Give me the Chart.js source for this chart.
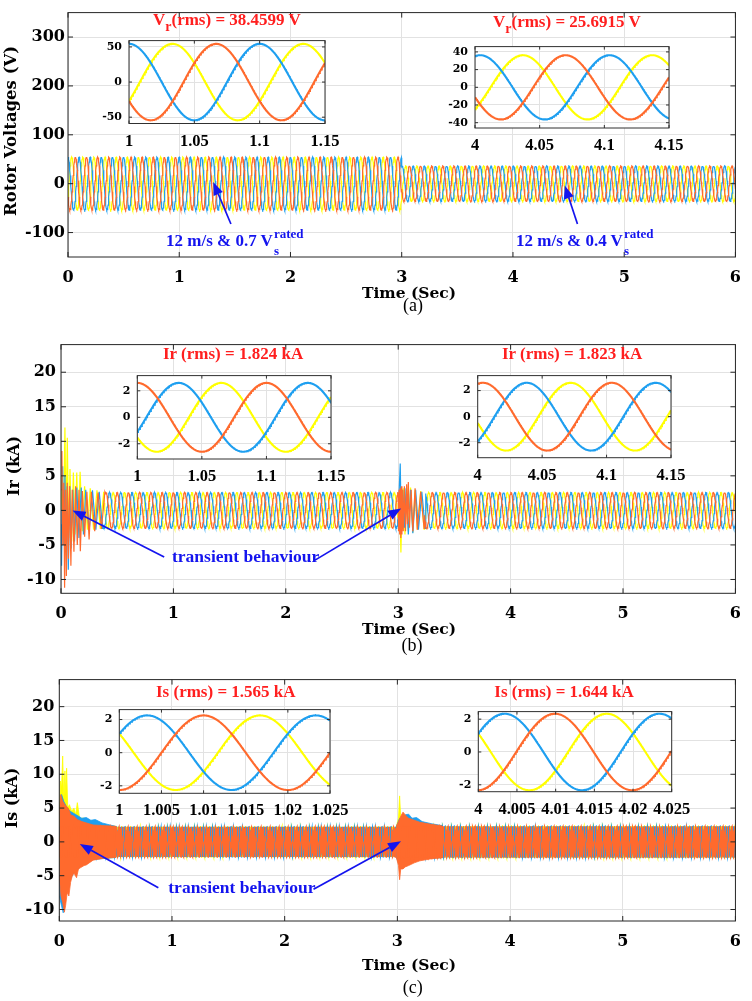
<!DOCTYPE html>
<html><head><meta charset="utf-8">
<script src="https://cdn.jsdelivr.net/npm/chart.js@4.4.0/dist/chart.umd.min.js"></script>
<style>
html,body{margin:0;padding:0;background:#fff}
body{position:relative;width:752px;height:1001px;overflow:hidden}
.cw{position:absolute}
.t{position:absolute;white-space:nowrap;line-height:1}
</style></head><body>
<script>
// ================= DATA =================
const timeTicks = [0, 1, 2, 3, 4, 5, 6];
const vrTicks = [-100, 0, 100, 200, 300];
const currentTicks = [-10, -5, 0, 5, 10, 15, 20];
const switchTime = 3; // s, operating point change

// (a) rotor voltages: peak amplitude before/after 3 s, frequency, time of a peak per phase
const vrFreq = 10;
const vrPeakAmp = [54.4, 36.3];
const vrPeakYellow = [1.0333, 4.037];
const vrPeakBlue = [1.0, 4.004];
const vrPeakOrange = [1.0667, 4.070];
const vrInset1X = [1, 1.05, 1.1, 1.15];
const vrInset1Y = [-50, 0, 50];
const vrInset2X = [4, 4.05, 4.1, 4.15];
const vrInset2Y = [-40, -20, 0, 20, 40];

// (b) rotor currents (kA)
const irFreq = 10;
const irPeakAmp = [2.6, 2.6];
const irPeakOrange = [1.0, 4.004];
const irPeakBlue = [1.032, 4.038];
const irPeakYellow = [1.065, 4.072];
const irInset1X = [1, 1.05, 1.1, 1.15];
const irInset2X = [4, 4.05, 4.1, 4.15];
const irInsetY = [-2, 0, 2];
// transient samples [t, kA]
const irYellowStart = [[0,0],[0.01,5],[0.02,-4],[0.035,12],[0.045,-3],[0.056,10.5],[0.068,-4],[0.08,6],[0.095,-4.5],[0.11,5.5],[0.125,-3.5],[0.14,5.5],[0.155,-3],[0.17,5.6],[0.19,-3],[0.21,3.5],[0.235,-2.8],[0.26,3.2],[0.29,-2.8],[0.32,2.9],[0.35,-2.7],[0.38,2.7]];
const irBlueStart = [[0,-2],[0.005,-8],[0.015,6.4],[0.025,-5],[0.035,5],[0.045,-6],[0.055,3.5],[0.065,-8.6],[0.078,3.5],[0.09,-5.5],[0.105,3],[0.12,-4.5],[0.14,3.3],[0.16,-4],[0.18,3.3],[0.2,-3.5],[0.22,3],[0.25,-3],[0.28,2.9],[0.31,-2.8],[0.34,2.7],[0.37,-2.6]];
const irOrangeStart = [[0,3],[0.008,8.6],[0.016,-5],[0.025,4],[0.032,-11.2],[0.04,3],[0.048,-9.5],[0.056,4],[0.066,-7],[0.076,3.5],[0.088,-8],[0.1,3],[0.115,-6],[0.13,3.5],[0.145,-5],[0.16,3],[0.172,-5.9],[0.19,2.8],[0.21,-3.8],[0.23,2.7],[0.25,-4.2],[0.27,2.7],[0.3,-3],[0.33,2.6],[0.36,-2.7],[0.39,2.6]];
const irYellowSwitch = [[3.005,-2],[3.012,1.5],[3.024,-6.1],[3.035,1],[3.045,3.2],[3.06,-3.5],[3.075,3.5],[3.09,-3],[3.11,3.3],[3.13,-3.2],[3.15,3],[3.17,-2.8],[3.2,2.8],[3.23,-2.7]];
const irBlueSwitch = [[3.005,1],[3.018,6.8],[3.026,-1.5],[3.04,3],[3.055,-2.5],[3.07,3.2],[3.09,-3.5],[3.11,3],[3.13,-3.3],[3.155,3],[3.18,-2.8],[3.21,2.7],[3.24,-2.6]];
const irOrangeSwitch = [[3.003,-3],[3.008,3],[3.013,-3.5],[3.018,3.2],[3.023,-4],[3.028,3.5],[3.033,-3.5],[3.038,3],[3.045,-3],[3.055,3.5],[3.065,-3],[3.075,3.8],[3.082,-2],[3.09,4.1],[3.1,-2.5],[3.115,3],[3.13,-3],[3.15,3.2],[3.17,-2.8],[3.2,2.7],[3.23,-2.6]];

// (c) stator currents (kA)
const isFreq = 50;
const isPeakAmp = [2.25, 2.33];
const isPeakBlue = [1.0033, 4.0034];
const isPeakOrange = [1.0100, 4.0099];
const isPeakYellow = [1.0167, 4.0166];
const isInset1X = [1, 1.005, 1.01, 1.015, 1.02, 1.025];
const isInset2X = [4, 4.005, 4.01, 4.015, 4.02, 4.025];
const isInsetY = [-2, 0, 2];
// transient envelopes [t, kA] (upper / lower edges of each phase's band)
const isYellowUp0 = [[0,3],[0.01,9],[0.02,8],[0.03,12.7],[0.04,6],[0.05,10.5],[0.058,7],[0.065,10.9],[0.075,5],[0.09,5.5],[0.11,4.5],[0.13,5],[0.145,4],[0.16,5.8],[0.18,3.5],[0.22,3.5],[0.26,3.2],[0.3,3],[0.35,2.6],[0.42,2.4],[0.5,2.3]];
const isYellowLo0 = [[0,-3],[0.03,-5],[0.06,-5],[0.1,-4],[0.15,-3],[0.2,-2.8],[0.3,-2.5],[0.5,-2.3]];
const isBlueUp0 = [[0,4],[0.02,7],[0.04,6],[0.07,5],[0.1,4.5],[0.15,4],[0.2,3.5],[0.24,3.6],[0.28,3.2],[0.32,3.3],[0.38,2.8],[0.45,2.5],[0.5,2.3]];
const isBlueLo0 = [[0,-8],[0.02,-9.5],[0.035,-10.5],[0.05,-8.5],[0.07,-7],[0.1,-5.5],[0.13,-4.5],[0.17,-4],[0.2,-3],[0.3,-2.6],[0.5,-2.3]];
const isOrangeUp0 = [[0,4],[0.012,7],[0.03,6],[0.05,5.5],[0.08,5],[0.1,4],[0.13,3.8],[0.16,3.3],[0.2,3],[0.3,2.5],[0.5,2.3]];
const isOrangeLo0 = [[0,-5],[0.015,-8],[0.03,-9],[0.045,-10.4],[0.056,-9.4],[0.07,-7.5],[0.085,-8],[0.1,-6],[0.114,-5.1],[0.13,-4.6],[0.153,-5.3],[0.17,-4],[0.19,-3.8],[0.22,-3.5],[0.24,-3.4],[0.3,-2.7],[0.4,-2.4],[0.5,-2.3]];
const isYellowUp3 = [[2.99,2.25],[3.01,3.5],[3.02,6.8],[3.03,3.5],[3.05,3.3],[3.08,3.4],[3.12,3.0],[3.2,2.7],[3.3,2.5],[3.4,2.35]];
const isYellowLo3 = [[2.99,-2.25],[3.02,-3],[3.05,-2.8],[3.1,-2.6],[3.2,-2.4],[3.4,-2.33]];
const isBlueUp3 = [[2.99,2.25],[3.02,3.5],[3.04,3],[3.07,4],[3.1,4.1],[3.13,3.5],[3.17,3.6],[3.22,3.0],[3.3,2.7],[3.4,2.4]];
const isBlueLo3 = [[2.99,-2.25],[3.02,-3.5],[3.05,-3],[3.1,-2.7],[3.2,-2.5],[3.4,-2.33]];
const isOrangeUp3 = [[2.99,2.25],[3.01,3],[3.03,3.8],[3.05,4.4],[3.08,3.8],[3.1,3.5],[3.15,3.2],[3.2,2.9],[3.3,2.6],[3.4,2.35]];
const isOrangeLo3 = [[2.99,-2.25],[3.01,-3.5],[3.02,-5.6],[3.03,-4],[3.05,-4],[3.07,-3.7],[3.1,-3.5],[3.15,-3.1],[3.2,-2.8],[3.3,-2.5],[3.4,-2.33]];

// annotation arrows [tailT, tailV, headT, headV] in data units
const vrArrows = [[1.4645,-82.5,1.305,3.5],[4.58,-82.5,4.465,-3.7]];
const irArrows = [[0.918,-6.75,0.103,0],[2.26,-7.2,3.026,0.28]];
const isArrows = [[0.879,-6.8,0.182,-0.3],[2.256,-7.0,3.032,0.09]];

// ================= STYLE =================
const YEL = '#ffff00', BLU = '#1e9ff0', ORA = '#ff6a2d';
const ANN = '#1414ee', RED = '#ff1f1f';
const GRID = '#e2e2e2', FRAME = '#262626';
const WIDE = "'DejaVu Serif', serif", TIMES = "'Liberation Serif', 'Times New Roman', serif";

// ================= HELPERS =================
function wavePoints(freq, amps, peaks, t0, t1, n) {
  const pts = [];
  for (let i = 0; i <= n; i++) {
    const t = t0 + (t1 - t0) * i / n;
    const s = t < switchTime ? 0 : 1;
    pts.push({x: t, y: amps[s] * Math.cos(2 * Math.PI * freq * (t - peaks[s]))});
  }
  return pts;
}
function withSamples(base, lists) {
  const out = base.filter(p => !lists.some(l => p.x >= l[0][0] && p.x <= l[l.length-1][0]));
  lists.forEach(l => l.forEach(([x, y]) => out.push({x, y})));
  out.sort((a, b) => a.x - b.x);
  return out;
}
function band(up, lo) {
  return up.map(([x, y]) => ({x, y})).concat(lo.slice().reverse().map(([x, y]) => ({x, y})));
}
function line(data, color, w) {
  return {data, borderColor: color, borderWidth: w, pointRadius: 0, fill: false, tension: 0};
}
function shape(data, color) {
  return {data, borderColor: color, backgroundColor: color, borderWidth: 0.8, pointRadius: 0, fill: 'shape', tension: 0};
}

function framePlugin(o) {
  return {
    id: 'frame',
    beforeDraw(chart) {
      if (!o.white) return;
      const a = chart.chartArea, c = chart.ctx;
      c.save(); c.fillStyle = '#fff'; c.fillRect(a.left, a.top, a.right - a.left, a.bottom - a.top); c.restore();
    },
    afterDatasetsDraw(chart) {
      const a = chart.chartArea, c = chart.ctx, {x, y} = chart.scales;
      c.save(); c.strokeStyle = o.color; c.lineWidth = 1; c.beginPath();
      x.ticks.forEach(t => { const p = x.getPixelForValue(t.value);
        c.moveTo(p, a.bottom); c.lineTo(p, a.bottom - o.len); c.moveTo(p, a.top); c.lineTo(p, a.top + o.len); });
      y.ticks.forEach(t => { const p = y.getPixelForValue(t.value);
        c.moveTo(a.left, p); c.lineTo(a.left + o.len, p); c.moveTo(a.right, p); c.lineTo(a.right - o.len, p); });
      c.stroke();
      c.strokeRect(a.left, a.top, a.right - a.left, a.bottom - a.top);
      c.restore();
    }
  };
}
function arrowPlugin(arrows) {
  return {
    id: 'arrows',
    afterDraw(chart) {
      const c = chart.ctx, {x, y} = chart.scales;
      c.save(); c.strokeStyle = ANN; c.fillStyle = ANN; c.lineWidth = 1.7;
      arrows.forEach(([t0, v0, t1, v1]) => {
        const x0 = x.getPixelForValue(t0), y0 = y.getPixelForValue(v0);
        const x1 = x.getPixelForValue(t1), y1 = y.getPixelForValue(v1);
        const g = Math.atan2(y1 - y0, x1 - x0), L = 13, W = 5;
        const bx = x1 - L * Math.cos(g), by = y1 - L * Math.sin(g);
        c.beginPath(); c.moveTo(x0, y0); c.lineTo(bx, by); c.stroke();
        c.beginPath(); c.moveTo(x1, y1);
        c.lineTo(bx - W * Math.sin(g), by + W * Math.cos(g));
        c.lineTo(bx + W * Math.sin(g), by - W * Math.cos(g));
        c.closePath(); c.fill();
      });
      c.restore();
    }
  };
}

function makeChart(o) {
  const d = document.createElement('div');
  d.className = 'cw';
  d.style.left = o.cont.x + 'px'; d.style.top = o.cont.y + 'px';
  d.style.width = o.cont.w + 'px'; d.style.height = o.cont.h + 'px';
  const cv = document.createElement('canvas');
  d.appendChild(cv); document.body.appendChild(d);
  const yW = o.plot.l - o.cont.x, xH = o.cont.y + o.cont.h - o.plot.b;
  const plugins = [framePlugin({white: o.white, color: o.frame, len: o.tickLen})];
  if (o.arrows) plugins.push(arrowPlugin(o.arrows));
  new Chart(cv, {
    type: 'line',
    data: {datasets: o.datasets},
    plugins,
    options: {
      responsive: true, maintainAspectRatio: false, animation: false, devicePixelRatio: 1,
      parsing: false, normalized: false,
      events: [],
      layout: {padding: {left: 0, top: o.plot.t - o.cont.y, right: o.cont.x + o.cont.w - o.plot.r, bottom: 0}},
      plugins: {legend: {display: false}, tooltip: {enabled: false}},
      scales: {
        x: {type: 'linear', min: o.xr[0], max: o.xr[1], offset: false,
          afterBuildTicks: s => { s.ticks = o.xt.map(v => ({value: v})); },
          afterFit: s => { s.height = xH; },
          grid: {color: GRID, drawTicks: false, lineWidth: 1},
          border: {display: false},
          ticks: {autoSkip: false, maxRotation: 0, padding: o.xPad, color: '#000',
            font: o.xFont, callback: v => String(v)}},
        y: {type: 'linear', min: o.yr[0], max: o.yr[1],
          afterBuildTicks: s => { s.ticks = o.yt.map(v => ({value: v})); },
          afterFit: s => { s.width = yW; },
          grid: {color: GRID, drawTicks: false, lineWidth: 1},
          border: {display: false},
          ticks: {autoSkip: false, padding: o.yPad, color: '#000',
            font: o.yFont, callback: v => String(v)}}
      }
    }
  });
}

function text(html, x, baseline, size, opt) {
  opt = opt || {};
  const e = document.createElement('div');
  e.className = 't';
  const fam = opt.family || TIMES;
  const asc = fam === WIDE ? 0.846 : 0.8375;
  e.style.fontFamily = fam;
  e.style.fontSize = size + 'px';
  e.style.fontWeight = opt.weight || 'bold';
  e.style.color = opt.color || '#000';
  e.style.left = x + 'px';
  e.style.top = (baseline - size * asc) + 'px';
  if (opt.center) e.style.transform = 'translateX(-50%)';
  e.innerHTML = html;
  document.body.appendChild(e);
}
function vtext(str, cx, cy, size) {
  const e = document.createElement('div');
  e.className = 't';
  e.style.fontFamily = WIDE; e.style.fontSize = size + 'px'; e.style.fontWeight = 'bold';
  e.style.left = cx + 'px'; e.style.top = cy + 'px';
  e.style.transform = 'translate(-50%,-50%) rotate(-90deg)';
  e.textContent = str;
  document.body.appendChild(e);
}
const subSup = (sup, sub) =>
  `<span style="position:relative;display:inline-block;width:31px;height:1px">` +
  `<span style="position:absolute;left:1px;top:-18px;font-size:13px;line-height:1">${sup}</span>` +
  `<span style="position:absolute;left:1px;top:-1px;font-size:13px;line-height:1">${sub}</span></span>`;

// ================= MAIN PLOTS =================
// Chart.js paints the first dataset on top, so orange comes first.
const mainTickFont = {family: WIDE, size: 16, weight: 'bold'};
const insetYFont = {family: WIDE, size: 11, weight: 'bold'};
const insetXFont = {family: TIMES, size: 16.5, weight: 'bold'};
const MW = 1.2, IW = 2.1;

// (a)
makeChart({
  cont: {x: 0, y: 0, w: 752, h: 292}, plot: {l: 68, t: 3, r: 744, b: 257},
  xr: [0, 6], yr: [-150, 350], xt: timeTicks, yt: vrTicks,
  xFont: mainTickFont, yFont: mainTickFont, xPad: 11, yPad: 3, frame: FRAME, tickLen: 5,
  arrows: vrArrows,
  datasets: [
    line(wavePoints(vrFreq, vrPeakAmp, vrPeakOrange, 0, 6, 1800), ORA, MW),
    line(wavePoints(vrFreq, vrPeakAmp, vrPeakBlue, 0, 6, 1800), BLU, MW),
    line(wavePoints(vrFreq, vrPeakAmp, vrPeakYellow, 0, 6, 1800), YEL, MW)
  ]
});
// (b)
makeChart({
  cont: {x: 0, y: 330, w: 752, h: 300}, plot: {l: 61, t: 337.3, r: 745, b: 593.3},
  xr: [0, 6], yr: [-12, 24], xt: timeTicks, yt: currentTicks,
  xFont: mainTickFont, yFont: mainTickFont, xPad: 11, yPad: 5, frame: FRAME, tickLen: 5,
  arrows: irArrows,
  datasets: [
    line(withSamples(wavePoints(irFreq, irPeakAmp, irPeakOrange, 0, 6, 1800), [irOrangeStart, irOrangeSwitch]), ORA, MW),
    line(withSamples(wavePoints(irFreq, irPeakAmp, irPeakBlue, 0, 6, 1800), [irBlueStart, irBlueSwitch]), BLU, MW),
    line(withSamples(wavePoints(irFreq, irPeakAmp, irPeakYellow, 0, 6, 1800), [irYellowStart, irYellowSwitch]), YEL, MW)
  ]
});
// (c)
makeChart({
  cont: {x: 0, y: 665, w: 752, h: 295}, plot: {l: 59.3, t: 675.7, r: 742, b: 921},
  xr: [0, 6], yr: [-11.7, 24], xt: timeTicks, yt: currentTicks,
  xFont: mainTickFont, yFont: mainTickFont, xPad: 11, yPad: 5, frame: FRAME, tickLen: 5,
  arrows: isArrows,
  datasets: [
    line(wavePoints(isFreq, isPeakAmp, isPeakOrange, 0, 6, 4800), ORA, MW),
    shape(band(isOrangeUp0, isOrangeLo0), ORA), shape(band(isOrangeUp3, isOrangeLo3), ORA),
    line(wavePoints(isFreq, isPeakAmp, isPeakBlue, 0, 6, 4800), BLU, MW),
    shape(band(isBlueUp0, isBlueLo0), BLU), shape(band(isBlueUp3, isBlueLo3), BLU),
    line(wavePoints(isFreq, isPeakAmp, isPeakYellow, 0, 6, 4800), YEL, MW),
    shape(band(isYellowUp0, isYellowLo0), YEL), shape(band(isYellowUp3, isYellowLo3), YEL)
  ]
});

// ================= INSETS =================
function inset(box, xr, yr, xt, yt, freq, amps, peaks) {
  makeChart({
    cont: {x: Math.floor(box.l - 42), y: Math.floor(box.t - 6), w: Math.ceil(box.r - box.l + 42 + 28), h: Math.ceil(box.b - box.t + 6 + 32)},
    plot: box, xr, yr, xt, yt,
    xFont: insetXFont, yFont: insetYFont, xPad: 8, yPad: 7, frame: '#303030', tickLen: 3, white: true,
    datasets: [
      line(wavePoints(freq, amps, peaks[2], xr[0], xr[1], 300), ORA, IW),
      line(wavePoints(freq, amps, peaks[1], xr[0], xr[1], 300), BLU, IW),
      line(wavePoints(freq, amps, peaks[0], xr[0], xr[1], 300), YEL, IW)
    ]
  });
}
inset({l: 129, t: 33.5, r: 325, b: 123.5}, [1, 1.15], [-59, 59], vrInset1X, vrInset1Y, vrFreq, vrPeakAmp, [vrPeakYellow, vrPeakBlue, vrPeakOrange]);
inset({l: 475, t: 39, r: 669, b: 128}, [4, 4.15], [-46, 46], vrInset2X, vrInset2Y, vrFreq, vrPeakAmp, [vrPeakYellow, vrPeakBlue, vrPeakOrange]);
inset({l: 137.3, t: 368.3, r: 331, b: 459}, [1, 1.15], [-3.15, 3.15], irInset1X, irInsetY, irFreq, irPeakAmp, [irPeakYellow, irPeakBlue, irPeakOrange]);
inset({l: 477.7, t: 368.3, r: 671, b: 457.7}, [4, 4.15], [-3.15, 3.15], irInset2X, irInsetY, irFreq, irPeakAmp, [irPeakYellow, irPeakBlue, irPeakOrange]);
inset({l: 119.3, t: 702.7, r: 330, b: 793.3}, [1, 1.025], [-2.45, 2.6], isInset1X, isInsetY, isFreq, isPeakAmp, [isPeakYellow, isPeakBlue, isPeakOrange]);
inset({l: 478.3, t: 704.3, r: 671.7, b: 791.7}, [4, 4.025], [-2.42, 2.46], isInset2X, isInsetY, isFreq, isPeakAmp, [isPeakYellow, isPeakBlue, isPeakOrange]);

// ================= TEXT =================
vtext('Rotor Voltages (V)', 10.8, 131, 16.5);
vtext('Ir (kA)', 13.7, 466, 16);
vtext('Is (kA)', 12, 797.5, 16);
text('Time (Sec)', 409, 298.3, 15.5, {family: WIDE, center: true});
text('Time (Sec)', 409, 634, 15.5, {family: WIDE, center: true});
text('Time (Sec)', 409, 970, 15.5, {family: WIDE, center: true});
text('(a)', 413, 311, 18, {weight: 'normal', center: true});
text('(b)', 412, 651, 18, {weight: 'normal', center: true});
text('(c)', 412.7, 993, 18, {weight: 'normal', center: true});
const subR = '<span style="position:relative;top:6px;font-size:14px">r</span>';
text(`V${subR}(rms) = 38.4599 V`, 153, 25, 17, {color: RED});
text(`V${subR}(rms) = 25.6915 V`, 493, 27.3, 17, {color: RED});
text('Ir (rms) = 1.824 kA', 163, 359.3, 17, {color: RED});
text('Ir (rms) = 1.823 kA', 502, 359.3, 17, {color: RED});
text('Is (rms) = 1.565 kA', 156, 697.3, 17, {color: RED});
text('Is (rms) = 1.644 kA', 494.3, 697.7, 17, {color: RED});
text('12 m/s &amp; 0.7 V' + subSup('rated', 's'), 166, 246.7, 17, {color: ANN});
text('12 m/s &amp; 0.4 V' + subSup('rated', 's'), 516, 246, 17, {color: ANN});
text('transient behaviour', 172, 562.3, 17.5, {color: ANN});
text('transient behaviour', 168.3, 893.3, 17.5, {color: ANN});
</script>
</body></html>
